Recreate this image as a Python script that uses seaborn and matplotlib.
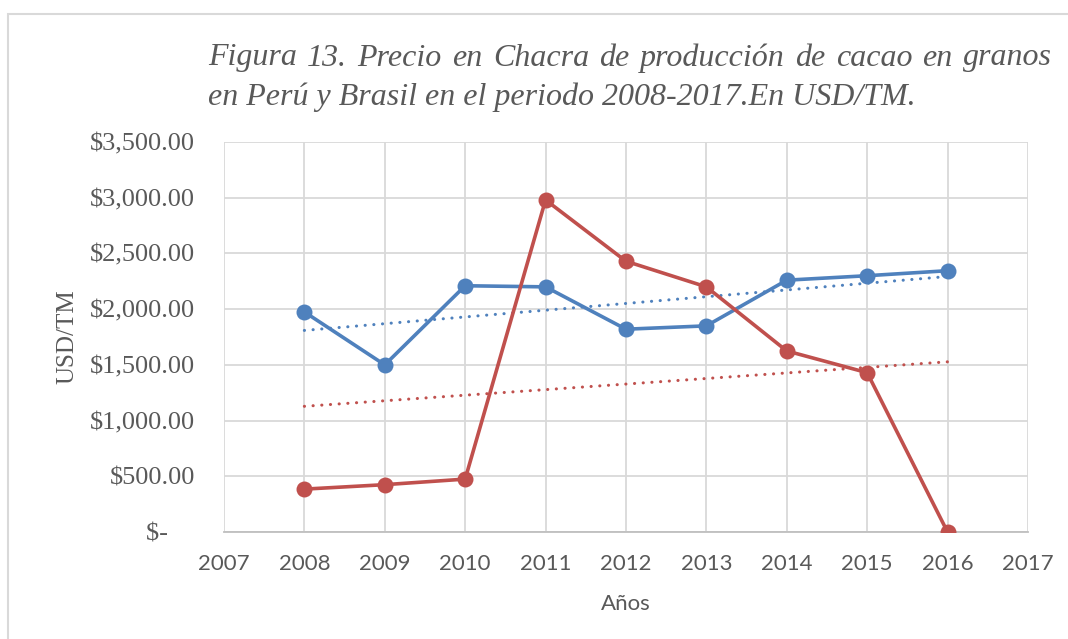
import numpy as np
import pandas as pd
import seaborn as sns
import matplotlib.pyplot as plt
from matplotlib.patches import Rectangle

# Data (USD/TM)
years = [2008, 2009, 2010, 2011, 2012, 2013, 2014, 2015, 2016]
peru = [1975, 1500, 2210, 2200, 1820, 1850, 2260, 2300, 2345]
brasil = [385, 425, 475, 2980, 2430, 2200, 1625, 1430, 0]

x_ticks = list(range(2007, 2018))
y_ticks = [0, 500, 1000, 1500, 2000, 2500, 3000, 3500]
y_labels = ['$-    ', '$500.00', '$1,000.00', '$1,500.00', '$2,000.00',
            '$2,500.00', '$3,000.00', '$3,500.00']

title_1 = 'Figura 13. Precio en Chacra de producción de cacao en granos'
title_2 = 'en Perú y Brasil en el periodo 2008-2017.En USD/TM.'

colors = {'Perú': '#4F81BD', 'Brasil': '#C0504D'}

df = pd.DataFrame({
    'Año': years * 2,
    'Precio': peru + brasil,
    'País': ['Perú'] * len(years) + ['Brasil'] * len(years),
})

sns.set_style('white')
fig = plt.figure(figsize=(10.68, 6.39), dpi=100)
ax = fig.add_axes([0.2097, 0.1674, 0.7528, 0.6104])

sns.lineplot(data=df, x='Año', y='Precio', hue='País', palette=colors,
             marker='o', markersize=11.5, markeredgewidth=0, linewidth=2.6,
             legend=False, ax=ax, zorder=3)

# linear trend lines
for name, vals in [('Perú', peru), ('Brasil', brasil)]:
    k, b = np.polyfit(years, vals, 1)
    xs = np.array([years[0], years[-1]])
    ax.plot(xs, k * xs + b, color=colors[name], linewidth=2.2,
            linestyle=(0, (0.05, 2.8)), dash_capstyle='round', zorder=2)

ax.set_xlim(2007, 2017)
ax.set_ylim(0, 3500)
ax.set_xticks(x_ticks)
ax.set_xticklabels([str(t) for t in x_ticks], fontfamily='Lato', fontsize=16,
                   color='#595959')
ax.set_yticks(y_ticks)
ax.set_yticklabels(y_labels, fontfamily='Liberation Serif', fontsize=19,
                   color='#595959')
ax.tick_params(axis='y', length=0, pad=21)
ax.tick_params(axis='x', length=0, pad=16)
ax.grid(True, color='#D9D9D9', linewidth=1.3)
for side in ['top', 'right', 'left']:
    ax.spines[side].set_visible(False)
ax.spines['bottom'].set_color('#BFBFBF')
ax.spines['bottom'].set_linewidth(1.3)

ax.set_xlabel('Años', fontfamily='Lato', fontsize=16, color='#595959', labelpad=14)
ax.set_ylabel('USD/TM', fontfamily='Liberation Serif', fontsize=18,
              color='#595959', labelpad=8)

# title: first line justified between x0 and x1 (pixels)
tkw = dict(fontfamily='Liberation Serif', style='italic', fontsize=23,
           color='#595959', va='center', ha='left')
x0, x1 = 208, 1052
renderer = fig.canvas.get_renderer()
words = title_1.split(' ')
items = [fig.text(0, 1 - 58 / 639, w, **tkw) for w in words]
widths = [t.get_window_extent(renderer).width for t in items]
gap = (x1 - x0 - sum(widths)) / (len(words) - 1)
xpos = x0
for t, w in zip(items, widths):
    t.set_x(xpos / 1068)
    xpos += w + gap
fig.text(x0 / 1068, 1 - 97 / 639, title_2, **tkw)

fig.patches.append(Rectangle((8 / 1068, -0.2), 1.2, 1 - 14 / 639 + 0.2,
                             transform=fig.transFigure, fill=False,
                             edgecolor='#D9D9D9', linewidth=1.5))

fig.savefig('out.png', dpi=100)
